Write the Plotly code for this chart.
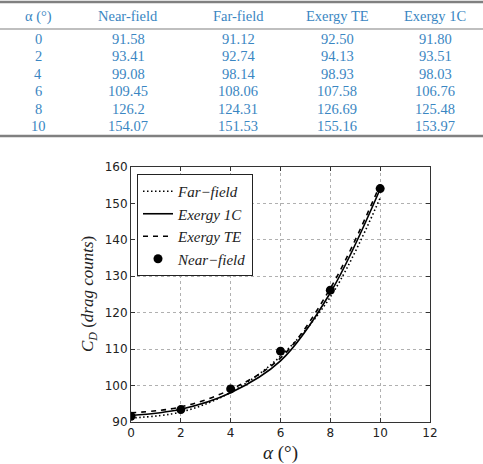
import plotly.graph_objects as go

# ---- data ----
alpha = [0, 2, 4, 6, 8, 10]
near_field = [91.58, 93.41, 99.08, 109.45, 126.2, 154.07]
far_field = [91.12, 92.74, 98.14, 108.06, 124.31, 151.53]
exergy_te = [92.50, 94.13, 98.93, 107.58, 126.69, 155.16]
exergy_1c = [91.80, 93.51, 98.03, 106.76, 125.48, 153.97]
table_headers = ["α (°)", "Near-field", "Far-field", "Exergy TE", "Exergy 1C"]
x_ticks = [0, 2, 4, 6, 8, 10, 12]
y_ticks = [90, 100, 110, 120, 130, 140, 150, 160]

W, H = 483, 464
L, R, T, B = 131, 430, 167, 422  # plot area in pixels
SERIF = "Liberation Serif"


def px(xp):
    return (xp - L) / (R - L)


def py(yp):
    return (B - yp) / (B - T)


fig = go.Figure()
lw = 1.6
fig.add_trace(go.Scatter(x=alpha, y=far_field, mode="lines", name="<i>Far−field</i>",
                         line=dict(color="black", width=lw, dash="1.5px,2.5px", shape="spline")))
fig.add_trace(go.Scatter(x=alpha, y=exergy_1c, mode="lines", name="<i>Exergy 1C</i>",
                         line=dict(color="black", width=lw, shape="spline")))
fig.add_trace(go.Scatter(x=alpha, y=exergy_te, mode="lines", name="<i>Exergy TE</i>",
                         line=dict(color="black", width=lw, dash="5px,5px", shape="spline")))
fig.add_trace(go.Scatter(x=alpha, y=near_field, mode="markers", name="<i>Near−field</i>",
                         marker=dict(color="black", size=9)))

axis_common = dict(
    showgrid=True, gridcolor="#b0b0b0", griddash="dot", gridwidth=1,
    showline=True, linecolor="#333333", linewidth=1, mirror="allticks",
    ticks="inside", ticklen=4, tickcolor="#333333", zeroline=False,
    tickfont=dict(family="DejaVu Sans", size=12, color="#222222"),
)
fig.update_xaxes(range=[0, 12], tickvals=x_ticks, **axis_common)
fig.update_yaxes(range=[90, 160], tickvals=y_ticks, **axis_common)

annotations = []
# axis titles
annotations.append(dict(x=px(280), y=py(453), xref="paper", yref="paper",
                        text="<i>α</i> (°)", showarrow=False,
                        font=dict(family=SERIF, size=19, color="#222"),
                        xanchor="center", yanchor="middle"))
annotations.append(dict(x=px(89), y=py(294), xref="paper", yref="paper",
                        text="<i>C<sub>D</sub></i> (<i>drag counts</i>)", showarrow=False,
                        textangle=-90,
                        font=dict(family=SERIF, size=17, color="#222"),
                        xanchor="center", yanchor="middle"))

# table
tcol = "#3a86c2"
col_x = [38, 128, 238, 337, 435]
header_y = 16
row_y0, row_dy = 39, 17.4
tfont = dict(family=SERIF, size=14.5, color=tcol)
for cx, h in zip(col_x, table_headers):
    annotations.append(dict(x=px(cx), y=py(header_y), xref="paper", yref="paper",
                            text=h, showarrow=False, font=tfont,
                            xanchor="center", yanchor="middle"))
columns = [
    [f"{a:g}" for a in alpha],
    [f"{v:g}" for v in near_field],
    [f"{v:.2f}" for v in far_field],
    [f"{v:.2f}" for v in exergy_te],
    [f"{v:.2f}" for v in exergy_1c],
]
for cx, col in zip(col_x, columns):
    for i, s in enumerate(col):
        annotations.append(dict(x=px(cx), y=py(row_y0 + i * row_dy), xref="paper", yref="paper",
                                text=s, showarrow=False, font=tfont,
                                xanchor="center", yanchor="middle"))

shapes = []
for yy, w in [(2, 2.5), (29, 1.2), (136, 2.5)]:
    shapes.append(dict(type="line", xref="paper", yref="paper",
                       x0=px(0), x1=px(W), y0=py(yy), y1=py(yy),
                       line=dict(color="#808080", width=w)))

fig.update_layout(
    width=W, height=H,
    margin=dict(l=L, r=W - R, t=T, b=H - B),
    paper_bgcolor="white", plot_bgcolor="white",
    annotations=annotations, shapes=shapes,
    showlegend=True,
    legend=dict(x=px(137), y=py(174), xanchor="left", yanchor="top",
                bordercolor="#222", borderwidth=1, bgcolor="white",
                font=dict(family=SERIF, size=15, color="#222"),
                itemwidth=30),
)

fig.write_html("out.html")
